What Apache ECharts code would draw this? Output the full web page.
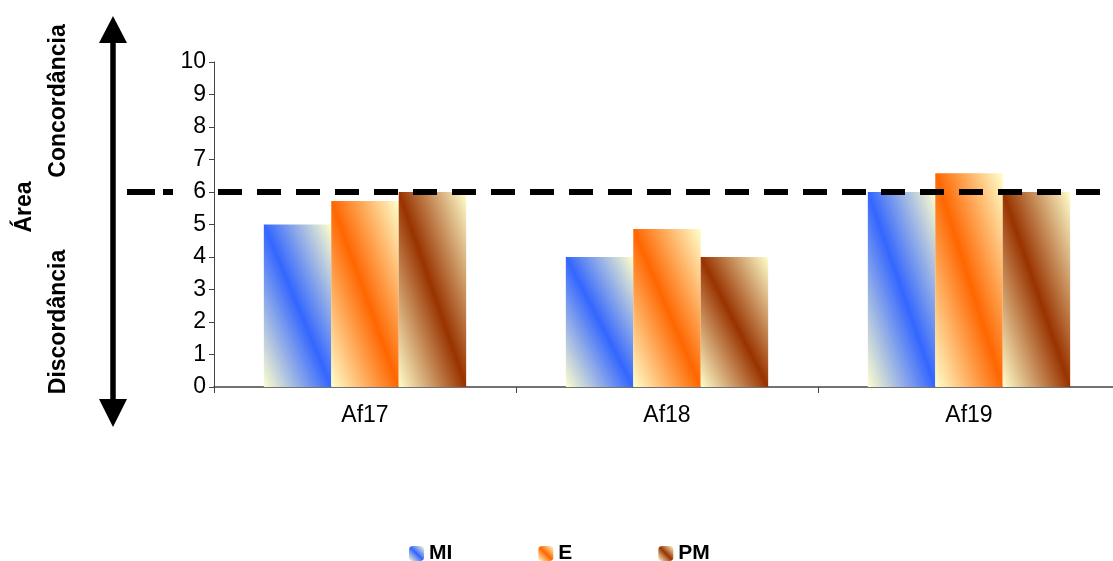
<!DOCTYPE html>
<html>
<head>
<meta charset="utf-8">
<script src="https://cdn.jsdelivr.net/npm/echarts@6/dist/echarts.min.js"></script>
<style>
html,body{margin:0;padding:0;background:#fff;overflow:hidden;width:1113px;height:561px;}
#chart{width:1120px;height:561px;}
</style>
</head>
<body>
<div id="chart"></div>
<script>
const categories = ['Af17', 'Af18', 'Af19'];
const seriesNames = ['MI', 'E', 'PM'];
const miValues = [5, 4, 6];
const eValues = [5.72, 4.86, 6.58];
const pmValues = [6, 4, 6];
const thresholdValue = 6;
const yTicks = [0, 1, 2, 3, 4, 5, 6, 7, 8, 9, 10];
const sideLabels = ['Concordância', 'Área', 'Discordância'];

const allValues = [miValues, eValues, pmValues];
const bandColors = ['#3366FF', '#FF6600', '#993300'];
const lightColor = '#FFFFCC';
const FONT = "'Liberation Sans', Arial, sans-serif";

function diagGradient(w, h, c) {
  const L2 = w * w + h * h;
  const a = (h * h) / L2, b = (w * w) / L2;
  return new echarts.graphic.LinearGradient(0.5 - a, 0.5 + b, 0.5 + a, 0.5 - b, [
    { offset: 0, color: lightColor },
    { offset: 0.5, color: c },
    { offset: 1, color: lightColor }
  ]);
}

const chart = echarts.init(document.getElementById('chart'), null, { renderer: 'canvas' });

const option = {
  animation: false,
  backgroundColor: '#fff',
  textStyle: { fontFamily: FONT },
  grid: { left: 214, right: 0, top: 62, bottom: 174, containLabel: false },
  legend: {
    left: 404,
    top: 538,
    itemWidth: 15,
    itemHeight: 15,
    itemGap: 86,
    data: seriesNames,
    textStyle: { fontFamily: FONT, fontSize: 21, fontWeight: 'bold', color: '#000' }
  },
  xAxis: {
    type: 'category',
    data: categories,
    axisLine: { lineStyle: { color: '#444', width: 1.5 } },
    axisTick: { show: true, length: 6, lineStyle: { color: '#444' } },
    axisLabel: { fontFamily: FONT, fontSize: 23, color: '#000', margin: 17 },
    splitLine: { show: false }
  },
  yAxis: {
    type: 'value',
    min: yTicks[0],
    max: yTicks[yTicks.length - 1],
    interval: 1,
    z: 10,
    axisLine: { show: true, lineStyle: { color: '#444', width: 1 } },
    axisTick: { show: true, length: 5, lineStyle: { color: '#444' } },
    axisLabel: { fontFamily: FONT, fontSize: 23, color: '#000', margin: 8 },
    splitLine: { show: false }
  },
  series: seriesNames.map((name, si) => ({
    name: name,
    type: 'bar',
    barGap: '0%',
    barCategoryGap: '33%',
    itemStyle: { color: diagGradient(1, 1, bandColors[si]) },
    data: allValues[si].slice()
  }))
};

chart.setOption(option);

// per-bar diagonal gradient based on each bar's actual pixel size
const newSeries = seriesNames.map((name, si) => {
  const data = chart.getModel().getSeriesByIndex(si).getData();
  return {
    data: allValues[si].map((v, i) => {
      const lay = data.getItemLayout(i);
      const w = Math.abs(lay.width), h = Math.abs(lay.height) || 1;
      return { value: v, itemStyle: { color: diagGradient(w, h, bandColors[si]) } };
    })
  };
});

const yLine = chart.convertToPixel({ yAxisIndex: 0 }, thresholdValue);
const W = chart.getWidth();
const axisLeft = option.grid.left;

chart.setOption({
  series: newSeries,
  graphic: [
    {
      type: 'line', z: 5,
      shape: { x1: 127, y1: yLine, x2: 174, y2: yLine },
      style: { stroke: '#000', lineWidth: 6, lineDash: [28, 8, 10, 100], lineCap: 'butt' }
    },
    {
      type: 'line', z: 5,
      shape: { x1: axisLeft + 4, y1: yLine, x2: W, y2: yLine },
      style: { stroke: '#000', lineWidth: 6, lineDash: [24, 15], lineDashOffset: 0, lineCap: 'butt' }
    },
    {
      type: 'line', z: 5,
      shape: { x1: 113, y1: 40, x2: 113, y2: 402 },
      style: { stroke: '#000', lineWidth: 5.5 }
    },
    {
      type: 'polygon', z: 5,
      shape: { points: [[99, 43], [127, 43], [113, 16]] },
      style: { fill: '#000' }
    },
    {
      type: 'polygon', z: 5,
      shape: { points: [[99, 399], [127, 399], [113, 427]] },
      style: { fill: '#000' }
    },
    {
      type: 'text', z: 5, x: 59, y: 101, rotation: Math.PI / 2,
      style: { text: sideLabels[0], font: "bold 23px 'Liberation Sans', Arial", fill: '#000',
               textAlign: 'center', textVerticalAlign: 'middle' }
    },
    {
      type: 'text', z: 5, x: 25, y: 207, rotation: Math.PI / 2,
      style: { text: sideLabels[1], font: "bold 23px 'Liberation Sans', Arial", fill: '#000',
               textAlign: 'center', textVerticalAlign: 'middle' }
    },
    {
      type: 'text', z: 5, x: 59, y: 322, rotation: Math.PI / 2,
      style: { text: sideLabels[2], font: "bold 23px 'Liberation Sans', Arial", fill: '#000',
               textAlign: 'center', textVerticalAlign: 'middle' }
    }
  ]
});
</script>
</body>
</html>
